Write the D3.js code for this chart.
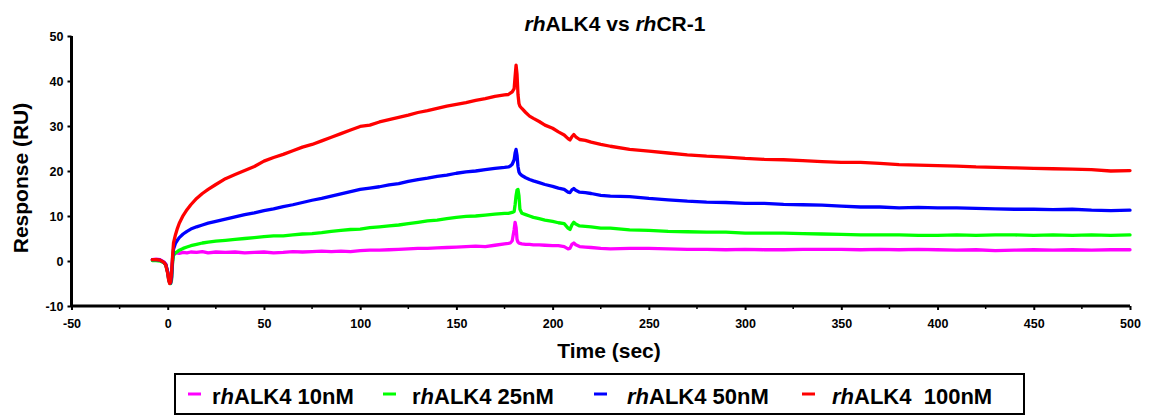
<!DOCTYPE html>
<html>
<head>
<meta charset="utf-8">
<script src="https://cdn.jsdelivr.net/npm/d3@7"></script>
<style>
  html, body { margin: 0; padding: 0; background: #fff; }
  svg { display: block; }
  text { font-family: "Liberation Sans", Arial, sans-serif; font-weight: bold; fill: #000; }
</style>
</head>
<body>
<svg id="chart" width="1160" height="417"></svg>
<script>
// Sensorgram time points (sec): baseline/injection, association, peak, early and late dissociation
const time = [
  -8, -6, -4, -2, -1, 0, 0.5, 1, 1.5, 2, 2.5, 3, 4, 5, 6, 8, 10, 12, 15, 18, 21, 25,
  30, 35, 40, 45, 50, 55, 60, 65, 70, 75, 80, 85, 90, 95, 100, 105, 110, 115, 120, 125, 130, 135, 140, 145, 150, 155, 160, 165, 170, 175,
  177, 178, 179, 180, 180.5, 181, 181.5, 182, 182.5, 183, 184, 186, 188, 190,
  193, 196, 200, 203, 206, 208, 209, 210, 211, 212, 214, 217, 220, 225,
  230, 240, 250, 260, 270, 280, 290, 300, 310, 320, 330, 340, 350, 360, 370, 380, 390, 400, 410, 420, 430, 440, 450, 460, 470, 480, 490, 500
];

// Response (RU) for each analyte concentration
const resp10nM = [
  0.3, 0.4, 0.3, -0.2, -0.7, -2.4, -3.8, -4.6, -4.8, -3.8, -0.2, 1.4, 1.7, 1.8, 1.7, 1.9, 1.8, 2.0, 1.9, 2.1, 1.8, 2.0,
  1.9, 2.0, 1.8, 1.9, 2.0, 1.8, 1.9, 2.1, 2.0, 2.1, 2.2, 2.1, 2.2, 2.1, 2.3, 2.4, 2.4, 2.5, 2.6, 2.7, 2.8, 2.8, 2.9, 3.0, 3.1, 3.2, 3.3, 3.2, 3.5, 3.8,
  3.9, 4.0, 4.5, 7.0, 8.6, 7.5, 4.8, 4.2, 4.0, 3.9, 3.8, 3.7, 3.7, 3.6,
  3.6, 3.5, 3.4, 3.4, 3.2, 2.7, 2.8, 3.7, 4.0, 3.6, 3.2, 3.1, 3.0, 2.8,
  2.7, 2.8, 2.8, 2.7, 2.6, 2.6, 2.5, 2.6, 2.5, 2.5, 2.6, 2.6, 2.6, 2.5, 2.6, 2.5, 2.6, 2.5, 2.4, 2.5, 2.3, 2.4, 2.5, 2.4, 2.5, 2.4, 2.5, 2.5
];
const resp25nM = [
  0.1, 0.1, 0.0, -0.4, -0.9, -2.6, -4.1, -4.9, -5.0, -4.2, -0.5, 1.3, 1.8, 2.1, 2.4, 2.8, 3.1, 3.4, 3.7, 4.0, 4.2, 4.4,
  4.6, 4.8, 5.0, 5.2, 5.4, 5.6, 5.6, 5.8, 6.0, 6.1, 6.3, 6.6, 6.8, 7.0, 7.1, 7.4, 7.6, 7.8, 8.0, 8.3, 8.6, 8.9, 9.1, 9.4, 9.7, 9.9, 10.0, 10.2, 10.4, 10.6,
  10.6, 10.7, 10.8, 11.0, 12.5, 14.5, 15.8, 15.9, 14.5, 11.5, 10.6, 10.3, 10.0, 9.7,
  9.4, 9.1, 8.8, 8.5, 8.3, 7.3, 7.0, 8.0, 8.6, 8.2, 7.8, 7.7, 7.6, 7.3,
  7.3, 6.9, 6.8, 6.6, 6.5, 6.4, 6.4, 6.2, 6.2, 6.2, 6.1, 6.0, 5.9, 5.8, 5.8, 5.8, 5.7, 5.7, 5.8, 5.7, 5.8, 5.8, 5.7, 5.8, 5.7, 5.8, 5.7, 5.8
];
const resp50nM = [
  0.3, 0.3, 0.2, -0.3, -0.8, -2.5, -4.0, -4.8, -4.9, -3.5, 0.5, 2.6, 3.9, 4.6, 5.2, 6.0, 6.6, 7.1, 7.6, 8.0, 8.4, 8.8,
  9.3, 9.8, 10.3, 10.7, 11.2, 11.6, 12.1, 12.5, 13.0, 13.5, 13.9, 14.4, 14.9, 15.4, 15.9, 16.2, 16.5, 16.9, 17.2, 17.7, 18.1, 18.4, 18.8, 19.1, 19.5, 19.8, 20.0, 20.3, 20.6, 20.8,
  20.9, 21.1, 21.5, 22.5, 24.0, 24.8, 23.5, 21.0, 19.8, 19.4, 19.0, 18.5, 18.1, 17.8,
  17.4, 17.0, 16.6, 16.2, 15.9, 15.3, 15.2, 15.8, 16.1, 15.7, 15.3, 15.2, 15.0, 14.6,
  14.4, 14.3, 13.9, 13.6, 13.3, 13.1, 13.0, 12.8, 12.8, 12.6, 12.5, 12.4, 12.2, 12.0, 12.0, 11.8, 11.9, 11.8, 11.8, 11.7, 11.6, 11.5, 11.5, 11.4, 11.5, 11.3, 11.2, 11.3
];
const resp100nM = [
  0.3, 0.3, 0.2, -0.3, -0.9, -2.8, -4.3, -5.0, -4.7, -2.5, 1.0, 4.0, 5.8, 7.2, 8.4, 10.1, 11.4, 12.5, 13.9, 15.0, 15.9, 17.0,
  18.3, 19.2, 20.1, 21.0, 22.2, 23.0, 23.7, 24.5, 25.3, 25.9, 26.7, 27.5, 28.3, 29.1, 29.9, 30.2, 30.9, 31.4, 31.9, 32.4, 33.0, 33.4, 33.9, 34.4, 34.8, 35.2, 35.7, 36.1, 36.6, 36.9,
  37.0, 37.3, 37.6, 38.3, 41.0, 43.5, 41.5, 37.0, 35.0, 34.4, 33.9, 33.0, 32.2, 31.7,
  31.0, 30.2, 29.5, 28.7, 28.0, 27.2, 26.9, 27.6, 28.1, 27.6, 27.0, 26.8, 26.4, 25.9,
  25.5, 24.8, 24.4, 24.0, 23.6, 23.3, 23.1, 22.8, 22.6, 22.5, 22.3, 22.1, 21.9, 21.9, 21.7, 21.4, 21.3, 21.2, 21.1, 20.9, 20.8, 20.7, 20.6, 20.5, 20.4, 20.3, 20.0, 20.1
];

const seriesColors = ["#ff00ff", "#00ff00", "#0000ff", "#ff0000"];
const xTicks = [-50, 0, 50, 100, 150, 200, 250, 300, 350, 400, 450, 500];
const yTicks = [-10, 0, 10, 20, 30, 40, 50];

// Legend labels: [upright, italic, upright] pieces
const legendLabels = [
  ["r", "h", "ALK4 10nM"],
  ["r", "h", "ALK4 25nM"],
  ["", "rh", "ALK4 50nM"],
  ["", "rh", "ALK4\u00a0\u00a0100nM"]
];

const series = [resp10nM, resp25nM, resp50nM, resp100nM];

const svg = d3.select("#chart");
const x = d3.scaleLinear().domain([-50, 500]).range([71.5, 1130]);
const y = d3.scaleLinear().domain([-10, 50]).range([306, 36]);

// Traces
const line = d3.line().x(d => x(d[0])).y(d => y(d[1]));
series.forEach((vals, i) => {
  svg.append("path")
    .datum(time.map((t, k) => [t, vals[k]]))
    .attr("d", line)
    .attr("fill", "none")
    .attr("stroke", seriesColors[i])
    .attr("stroke-width", 3.3)
    .attr("stroke-linejoin", "round")
    .attr("stroke-linecap", "round");
});

// Plain hyphen for negative tick labels
const fmt = d => String(d);

// X axis with minor ticks
const xMinor = d3.range(-25, 500, 50);
const gx = svg.append("g").attr("transform", `translate(0,${y(-10)})`);
gx.selectAll("line.minor").data(xMinor).join("line")
  .attr("x1", d => x(d)).attr("x2", d => x(d)).attr("y1", 0).attr("y2", 3)
  .attr("stroke", "#000").attr("stroke-width", 1.5);
gx.call(d3.axisBottom(x).tickValues(xTicks).tickFormat(fmt).tickSize(4).tickPadding(9).tickSizeOuter(0));

// Y axis
const gy = svg.append("g").attr("transform", `translate(${x(-50)},0)`);
gy.call(d3.axisLeft(y).tickValues(yTicks).tickFormat(fmt).tickSize(4).tickPadding(4).tickSizeOuter(0));

[gx, gy].forEach(g => {
  g.select(".domain").attr("stroke", "#000").attr("stroke-width", 3);
  g.selectAll(".tick line").attr("stroke", "#000").attr("stroke-width", 2);
  g.selectAll(".tick text")
    .style("font-family", '"Liberation Sans", Arial, sans-serif')
    .style("font-weight", "bold").style("font-size", "12.5px").attr("fill", "#000");
});
gx.select(".domain").attr("d", `M${x(-50)},0H${x(500)}`);
gy.select(".domain").attr("d", `M0,${y(-10)}V${y(50)}`);

// Title
const title = svg.append("text").attr("x", 615).attr("y", 31)
  .attr("text-anchor", "middle").style("font-size", "21px");
title.append("tspan").style("font-style", "italic").text("rh");
title.append("tspan").text("ALK4 vs ");
title.append("tspan").style("font-style", "italic").text("rh");
title.append("tspan").text("CR-1");

// Axis titles
svg.append("text").attr("x", 609).attr("y", 358)
  .attr("text-anchor", "middle").style("font-size", "21px").text("Time (sec)");
svg.append("text")
  .attr("transform", "translate(28,178) rotate(-90)")
  .attr("text-anchor", "middle").style("font-size", "21px").text("Response (RU)");

// Legend
svg.append("rect").attr("x", 175).attr("y", 374).attr("width", 849).attr("height", 40)
  .attr("fill", "none").attr("stroke", "#000").attr("stroke-width", 2);
const swatchX = [188, 383, 594, 802];
const labelX = [212, 412, 627, 832];
legendLabels.forEach((parts, i) => {
  svg.append("line")
    .attr("x1", swatchX[i]).attr("x2", swatchX[i] + 13)
    .attr("y1", 394).attr("y2", 394)
    .attr("stroke", seriesColors[i]).attr("stroke-width", 3);
  const t = svg.append("text").attr("x", labelX[i]).attr("y", 404).style("font-size", "22px");
  if (parts[0]) t.append("tspan").text(parts[0]);
  t.append("tspan").style("font-style", "italic").text(parts[1]);
  t.append("tspan").text(parts[2]);
});
</script>
</body>
</html>
